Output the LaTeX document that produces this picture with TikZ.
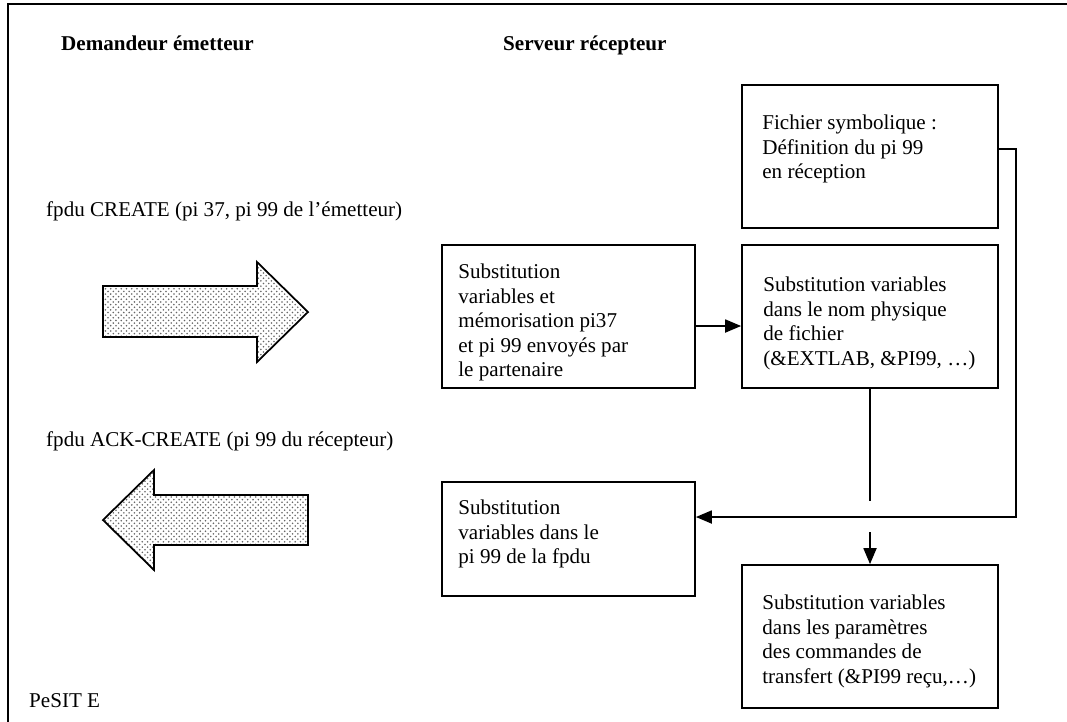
\documentclass[tikz,border=0pt]{standalone}
\usepackage{fontspec}
\setmainfont{Liberation Serif}
\usetikzlibrary{arrows.meta,patterns}
\tikzset{
  boite/.style={draw, line width=1pt, inner sep=0pt},
  texte/.style={align=left, anchor=north west, inner sep=0pt},
  fleche/.style={line width=1pt, -{Triangle[length=0.32cm,width=0.26cm]}},
  bloc/.style={draw, line width=1pt, pattern=crosshatch dots, pattern color=black!60},
}

\begin{document}
\begin{tikzpicture}[x=0.02cm, y=-0.02cm, font=\fontsize{12}{13.9}\selectfont]
	\useasboundingbox (0,0) rectangle (1067,721);
	
	% cadre
	\draw[line width=1pt] (8,740) -- (8,4) -- (1080,4);
	
	% titres
	\node[anchor=base west, font=\fontsize{12}{13.9}\selectfont\bfseries] (demandeur) at (55,50) {Demandeur émetteur};
	\node[anchor=base west, font=\fontsize{12}{13.9}\selectfont\bfseries] (serveur) at (497,50) {Serveur récepteur};
	\node[anchor=base west] (create) at (40,216) {fpdu CREATE (pi 37, pi 99 de l’émetteur)};
	\node[anchor=base west] (ack) at (40,446) {fpdu ACK-CREATE (pi 99 du récepteur)};
	\node[anchor=base west] (pesit) at (23,707) {PeSIT E};
	
	% grosses fleches
	\draw[bloc] (103,286) -- (257,286) -- (257,262) -- (308,312) -- (257,362) -- (257,337) -- (103,337) -- cycle;
	\draw[bloc] (308,495) -- (154,495) -- (154,470) -- (103,520) -- (154,570) -- (154,545) -- (308,545) -- cycle;
	
	% boites
	\node[boite, minimum width=5.12cm, minimum height=2.86cm] (fich) at (870,156.5) {};
	\node[boite, minimum width=5.12cm, minimum height=2.86cm] (nom) at (870,316.5) {};
	\node[boite, minimum width=5.06cm, minimum height=2.86cm] (memo) at (568.5,316.5) {};
	\node[boite, minimum width=5.06cm, minimum height=2.28cm] (fpdu) at (568.5,539) {};
	\node[boite, minimum width=5.12cm, minimum height=2.86cm] (param) at (870,636.5) {};
	
	\node[texte] (fichtxt) at (762,115) {Fichier symbolique :\\Définition du pi 99\\en réception};
	\node[texte] (nomtxt) at (763,277) {Substitution variables\\dans le nom physique\\de fichier\\(\&EXTLAB, \&PI99, …)};
	\node[texte] (memotxt) at (458,264) {Substitution\\variables et\\mémorisation pi37\\et pi 99 envoyés par\\le partenaire};
	\node[texte] (fpdutxt) at (458,500) {Substitution\\variables dans le\\pi 99 de la fpdu};
	\node[texte] (paramtxt) at (762,595) {Substitution variables\\dans les paramètres\\des commandes de\\transfert (\&PI99 reçu,…)};
	
	% liaisons
	\draw[fleche] ([yshift=-0.19cm]memo.east) -- ([yshift=-0.19cm]nom.west);
	\draw[fleche] ([yshift=0.15cm]fich.east) -- ++(17,0) |- ([yshift=0.44cm]fpdu.east);
	\draw[line width=1pt] (nom.south) -- ++(0,112);
	\draw[fleche] ([yshift=0.64cm]param.north) -- (param.north);
\end{tikzpicture}
\end{document}
